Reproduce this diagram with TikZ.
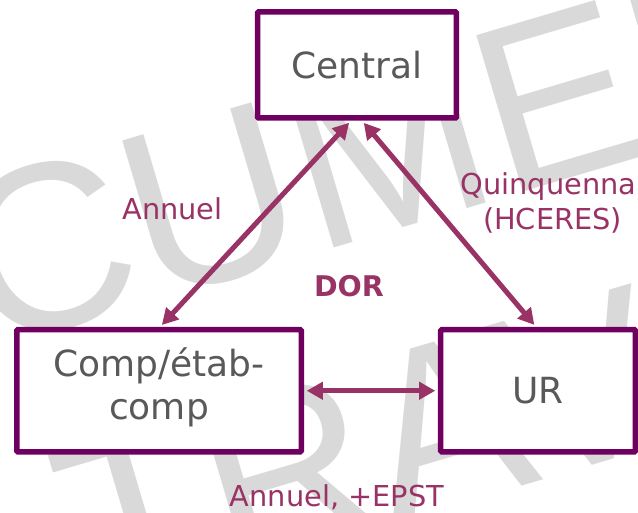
\documentclass[tikz,border=0pt]{standalone}
\usepackage{fontspec}
\setmainfont{DejaVu Sans}
\newfontfamily\wmfont{Liberation Sans}
\usetikzlibrary{arrows.meta}
\definecolor{boxc}{HTML}{700060}
\definecolor{arrc}{HTML}{993366}
\definecolor{txtc}{HTML}{595959}
\definecolor{wmc}{HTML}{D9D9D9}
\tikzset{
  box/.style={draw=boxc, line width=5.5pt, fill=white, rounded corners=1pt,
    inner sep=0pt, text=txtc, font=\fontsize{36}{43.5}\selectfont, align=center},
  link/.style={draw=arrc, line width=5pt,
    {Triangle[length=16pt,width=17pt]}-{Triangle[length=16pt,width=17pt]},
    shorten <=2.75pt, shorten >=2.75pt},
  lbl/.style={text=arrc, font=\fontsize{28.8}{34.5}\selectfont, inner sep=0pt},
  wm/.style={text=wmc, font=\wmfont\fontsize{237}{277}\selectfont, inner sep=0pt}
}
\begin{document}
\begin{tikzpicture}[x=1pt,y=-1pt]
\useasboundingbox (0,0) rectangle (638,513);
\clip (0,0) rectangle (638,513);
\fill[white] (0,0) rectangle (638,513);
% watermark
\node[wm, anchor=base west, rotate=16.5] (wm1) at (-354,452) {DOCUMENT};
\node[wm, anchor=base west, rotate=16.5] (wm2) at (-289,726) {DE TRAVAIL};
% boxes
\node[box, minimum width=198.8pt, minimum height=106pt] (central) at (357,65) {Central};
\node[box, minimum width=284.5pt, minimum height=122pt] (comp) at (159,390.75)
  {Comp/étab-\\comp\rule[-14pt]{0pt}{0pt}};
\node[box, minimum width=194.75pt, minimum height=122pt] (ur) at (538.1,390.75) {UR};
% connectors
\draw[link] ([xshift=-6pt]central.south) -- ([xshift=1pt]comp.north);
\draw[link] ([xshift=5pt]central.south) -- ([xshift=-2pt]ur.north);
\draw[link] (comp.east) -- (ur.west);
% labels
\node[lbl, anchor=base] (lA) at (172.5,220) {Annuel};
\node[lbl, anchor=base] (lQ) at (552.5,195) {Quinquennal};
\node[lbl, anchor=base] (lH) at (552.5,230) {(HCERES)};
\node[lbl, anchor=base, font=\bfseries\fontsize{28.5}{34}\selectfont] (dor) at (349,297) {DOR};
\node[lbl, anchor=base] (lB) at (337,506) {Annuel, +EPST};
\end{tikzpicture}
\end{document}
